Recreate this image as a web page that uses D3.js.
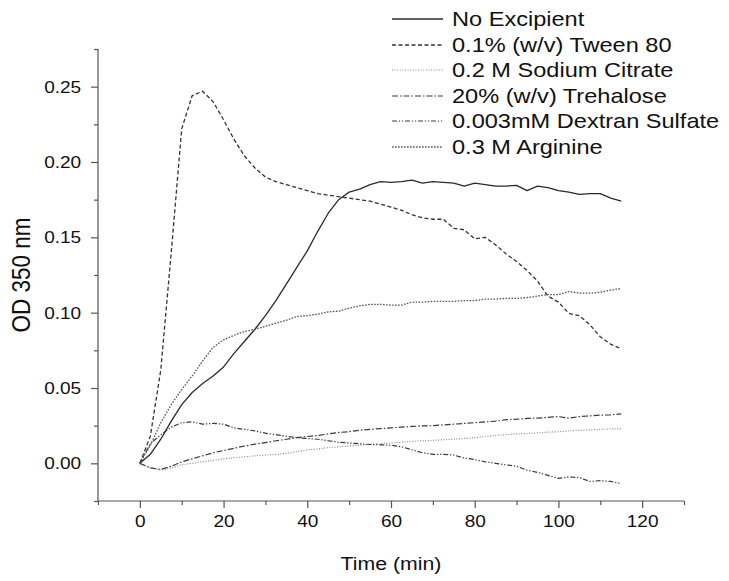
<!DOCTYPE html>
<html><head><meta charset="utf-8">
<script src="https://cdn.jsdelivr.net/npm/d3@7"></script>
<style>
body{margin:0;background:#fff}
svg{display:block}
text{font-family:"Liberation Sans",Arial,sans-serif;fill:#111}
</style>
</head><body><svg id="c" width="729" height="581"></svg>
<script>
const time = [0,2.5,5,7.5,10,12.5,15,17.5,20,22.5,25,27.5,30,32.5,35,37.5,40,42.5,45,47.5,50,52.5,55,57.5,60,62.5,65,67.5,70,72.5,75,77.5,80,82.5,85,87.5,90,92.5,95,97.5,100,102.5,105,107.5,110,112.5,115];

const noExcipient = [0,0.006,0.016,0.028,0.039,0.047,0.053,0.058,0.064,0.073,0.081,0.089,0.098,0.108,0.119,0.130,0.141,0.154,0.166,0.175,0.180,0.182,0.185,0.187,0.1865,0.187,0.188,0.186,0.187,0.1865,0.186,0.184,0.186,0.185,0.184,0.184,0.1845,0.181,0.184,0.183,0.181,0.180,0.1785,0.179,0.179,0.176,0.174];
const tween80 = [0,0.018,0.062,0.140,0.222,0.244,0.247,0.240,0.228,0.215,0.204,0.196,0.190,0.187,0.185,0.183,0.181,0.179,0.178,0.177,0.176,0.175,0.174,0.172,0.170,0.168,0.165,0.163,0.162,0.162,0.156,0.155,0.149,0.150,0.145,0.139,0.134,0.128,0.121,0.111,0.107,0.0995,0.098,0.092,0.084,0.079,0.076];
const sodiumCitrate = [0,-0.003,-0.0045,-0.003,-0.001,0,0.001,0.002,0.003,0.0037,0.0043,0.005,0.0055,0.006,0.0066,0.0078,0.009,0.0095,0.0105,0.011,0.0115,0.012,0.0127,0.013,0.0135,0.014,0.0145,0.015,0.0152,0.0157,0.016,0.0165,0.017,0.0178,0.0185,0.019,0.0195,0.0198,0.0202,0.0207,0.021,0.0215,0.022,0.0222,0.0225,0.0228,0.023];
const trehalose = [0,-0.003,-0.004,-0.002,0.001,0.003,0.005,0.007,0.0085,0.010,0.0115,0.0127,0.0138,0.015,0.016,0.017,0.0178,0.0185,0.0195,0.0205,0.021,0.022,0.0226,0.023,0.0235,0.024,0.0245,0.0248,0.025,0.0255,0.026,0.0265,0.027,0.0275,0.028,0.029,0.0293,0.0298,0.030,0.0305,0.031,0.030,0.031,0.0315,0.032,0.0322,0.0328];
const dextranSulfate = [0,0.013,0.019,0.024,0.027,0.0275,0.026,0.0265,0.026,0.0235,0.0225,0.0215,0.020,0.019,0.018,0.017,0.0165,0.016,0.015,0.014,0.0135,0.013,0.0125,0.0123,0.012,0.011,0.009,0.007,0.006,0.006,0.0055,0.0035,0.0025,0.001,0,-0.001,-0.002,-0.0045,-0.006,-0.008,-0.010,-0.009,-0.0095,-0.012,-0.0115,-0.012,-0.0135];
const arginine = [0,0.012,0.027,0.039,0.049,0.058,0.068,0.077,0.082,0.085,0.0875,0.089,0.091,0.093,0.095,0.0975,0.098,0.099,0.1005,0.101,0.103,0.1045,0.1055,0.1055,0.105,0.105,0.107,0.107,0.1075,0.1075,0.1075,0.108,0.108,0.109,0.109,0.1095,0.1095,0.110,0.111,0.112,0.112,0.114,0.113,0.113,0.1135,0.115,0.116];

const seriesNames = ["No Excipient","0.1% (w/v) Tween 80","0.2 M Sodium Citrate","20% (w/v) Trehalose","0.003mM Dextran Sulfate","0.3 M Arginine"];
const seriesValues = [noExcipient, tween80, sodiumCitrate, trehalose, dextranSulfate, arginine];

const xMajorTicks = [0,20,40,60,80,100,120];
const xMinorTicks = [-10,10,30,50,70,90,110,130];
const yMajorTicks = [0,0.05,0.10,0.15,0.20,0.25];
const yMinorTicks = [-0.025,0.025,0.075,0.125,0.175,0.225,0.275];
const yTickLabels = ["0.00","0.05","0.10","0.15","0.20","0.25"];
const xTitle = "Time (min)";
const yTitle = "OD 350 nm";

const styles = [
  {dash:null, color:"#2b2b2b", w:1.3},
  {dash:"4,2.5", color:"#333", w:1.3},
  {dash:"1,1.6", color:"#8a8a8a", w:1.2},
  {dash:"6,2,1.5,2", color:"#3a3a3a", w:1.2},
  {dash:"5,1.8,1.3,1.8,1.3,1.8", color:"#3a3a3a", w:1.2},
  {dash:"1.6,1.4", color:"#555", w:1.3}
];

const svg = d3.select("#c");
const x = d3.scaleLinear().domain([-10,130]).range([98,684]);
const y = d3.scaleLinear().domain([-0.025,0.275]).range([501,49]);
const SX = 1.12;
const axisColor = "#555";

// x axis
const gx = svg.append("g").attr("transform",`translate(0,${y(-0.025)})`);
gx.call(d3.axisBottom(x).tickValues(xMajorTicks).tickSize(7).tickPadding(7).tickFormat(d3.format("d")));
const gxm = svg.append("g").attr("transform",`translate(0,${y(-0.025)})`);
gxm.call(d3.axisBottom(x).tickValues(xMinorTicks).tickSize(4).tickFormat(""));
gxm.select(".domain").remove();
[gx,gxm].forEach(g=>{g.selectAll("path,line").attr("stroke",axisColor).attr("stroke-width",1.2);});
gx.select(".domain").attr("d",`M${x(-10)},0H${x(130)}`);
gx.selectAll("text").attr("font-size",17).attr("font-family","Liberation Sans, Arial, sans-serif").attr("fill","#111").attr("transform",`scale(${SX},1)`);

// y axis
const gy = svg.append("g").attr("transform",`translate(${x(-10)},0)`);
gy.call(d3.axisLeft(y).tickValues(yMajorTicks).tickSize(7).tickPadding(8).tickFormat((d,i)=>yTickLabels[i]));
const gym = svg.append("g").attr("transform",`translate(${x(-10)},0)`);
gym.call(d3.axisLeft(y).tickValues(yMinorTicks).tickSize(4).tickFormat(""));
gym.select(".domain").remove();
[gy,gym].forEach(g=>{g.selectAll("path,line").attr("stroke",axisColor).attr("stroke-width",1.2);});
gy.select(".domain").attr("d",`M0,${y(-0.025)}V${y(0.275)}`);
gy.selectAll("text").attr("font-size",17).attr("font-family","Liberation Sans, Arial, sans-serif").attr("fill","#111").attr("transform",`scale(${SX},1)`);

// titles
svg.append("text").attr("transform",`translate(${(x(-10)+x(130))/2},570) scale(${SX},1)`)
  .attr("text-anchor","middle").attr("font-size",19).text(xTitle);
svg.append("text").attr("transform",`translate(30,${(y(-0.025)+y(0.275))/2}) rotate(-90) scale(1,${SX})`)
  .attr("text-anchor","middle").attr("font-size",22.5).text(yTitle);

// lines
const line = d3.line().x((d,i)=>x(time[i])).y(d=>y(d));
seriesValues.forEach((vals,k)=>{
  svg.append("path").datum(vals).attr("d",line).attr("fill","none")
    .attr("stroke",styles[k].color).attr("stroke-width",styles[k].w)
    .attr("stroke-dasharray",styles[k].dash).attr("stroke-linejoin","round");
});

// legend
const legY = [19,45,70,96,121,147];
seriesNames.forEach((name,k)=>{
  svg.append("line").attr("x1",392).attr("x2",443).attr("y1",legY[k]).attr("y2",legY[k])
    .attr("stroke",styles[k].color).attr("stroke-width",styles[k].w).attr("stroke-dasharray",styles[k].dash);
  svg.append("text").attr("transform",`translate(452,${legY[k]+7}) scale(1.15,1)`)
    .attr("font-size",20.5).text(name);
});
</script>
</body></html>
